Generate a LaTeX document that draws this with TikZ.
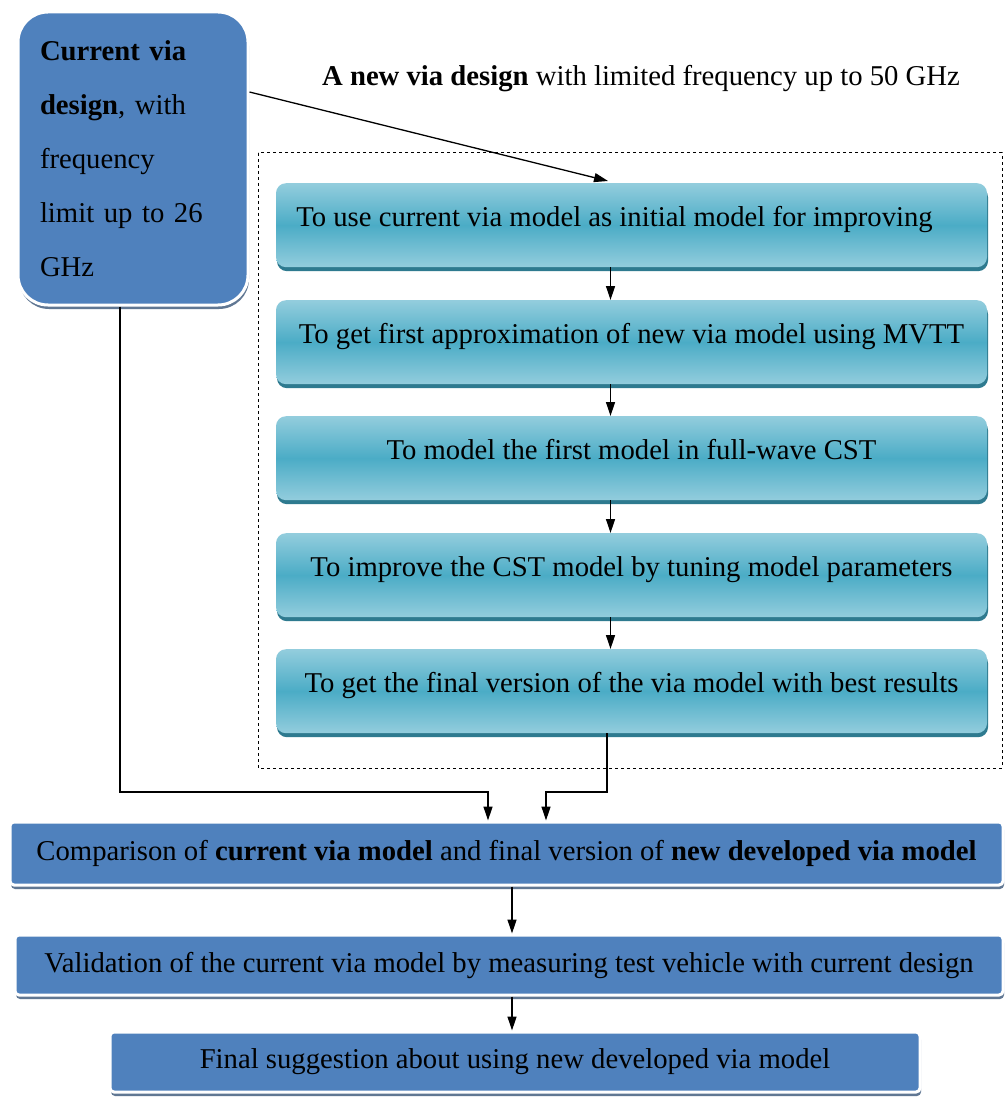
\documentclass[tikz,border=0pt]{standalone}
\usepackage{fontspec}
\setmainfont{Liberation Serif}
\usetikzlibrary{arrows.meta,shadows,calc}
\definecolor{boxblue}{HTML}{4F81BD}
\definecolor{blueshade}{HTML}{3A5F8C}
\definecolor{tealtop}{HTML}{93CDDD}
\definecolor{tealmid}{HTML}{4BACC6}
\definecolor{tealdark}{HTML}{2E7A8F}
\tikzset{
  txt/.style={font=\fontsize{28.7}{34}\selectfont},
  bluebox/.style={txt, draw=white, line width=3pt, fill=boxblue, rounded corners=4pt,
    inner sep=0pt, drop shadow={shadow xshift=1pt, shadow yshift=-4pt, fill=blueshade!70!gray, opacity=0.9}},
  stepbox/.style={txt, rounded corners=10pt, top color=tealtop, bottom color=tealtop,
    middle color=tealmid, minimum width=711pt, inner ysep=0pt, text height=43pt, text depth=41pt,
    drop shadow={shadow xshift=1pt, shadow yshift=-4pt, fill=tealdark, opacity=1}},
  arr/.style={-{Triangle[length=14pt,width=9pt]}, line width=1.3pt},
}
\begin{document}
\begin{tikzpicture}[x=1pt,y=-1pt]
\useasboundingbox (0,0) rectangle (1006,1099);
\fill[white] (0,0) rectangle (1006,1099);

% frame around the detailed design steps
\draw[dashed, line width=1pt] (258,153) rectangle (1002,768);

% existing design
\node[bluebox, rounded corners=30pt, minimum width=230pt, minimum height=293pt,
  text width=186pt, align=left, font=\fontsize{28.7}{54}\selectfont]
  (cur) at (133,158.5) {\textbf{Current via}\\\textbf{design}, with\\frequency\\limit up to 26\\GHz};

\node[txt, anchor=base] (title) at (641,86) {\textbf{A new via design} with limited frequency up to 50 GHz};

% design steps
\node[stepbox, anchor=north] (s1) at (631.5,183) {\hspace*{-34pt}To use current via model as initial model for improving};
\node[stepbox, anchor=north] (s2) at (631.5,300) {To get first approximation of new via model using MVTT};
\node[stepbox, anchor=north] (s3) at (631.5,416) {To model the first model in full-wave CST};
\node[stepbox, anchor=north] (s4) at (631.5,533) {To improve the CST model by tuning model parameters};
\node[stepbox, anchor=north] (s5) at (631.5,649) {To get the final version of the via model with best results};

% comparison and validation
\node[bluebox, minimum width=993pt, minimum height=63pt] (cmp) at (506.5,853.5)
  {Comparison of \textbf{current via model} and final version of \textbf{new developed via model}};
\node[bluebox, minimum width=988pt, minimum height=60pt] (val) at (509,965)
  {Validation of the current via model by measuring test vehicle with current design};
\node[bluebox, minimum width=810pt, minimum height=60pt] (fin) at (515,1062)
  {Final suggestion about using new developed via model};

% connectors
\coordinate (tip) at (608,181);
\draw[arr] (cur.east |- 0,92) -- (tip);
\foreach \a/\b in {s1/s2,s2/s3,s3/s4,s4/s5}
  \draw[arr] ([xshift=-21pt]\a.south) -- ([xshift=-21pt]\b.north);
\draw[arr] ([xshift=-13pt]cur.south) |- (488,792) -- ([xshift=-18.5pt]cmp.north);
\draw[arr] ([xshift=-24.5pt]s5.south) |- (546,792) -- ([xshift=39.5pt]cmp.north);
\draw[arr] ([xshift=5.5pt]cmp.south) -- ([xshift=3pt]val.north);
\draw[arr] ([xshift=3pt]val.south) -- ([xshift=-3pt]fin.north);
\end{tikzpicture}
\end{document}
